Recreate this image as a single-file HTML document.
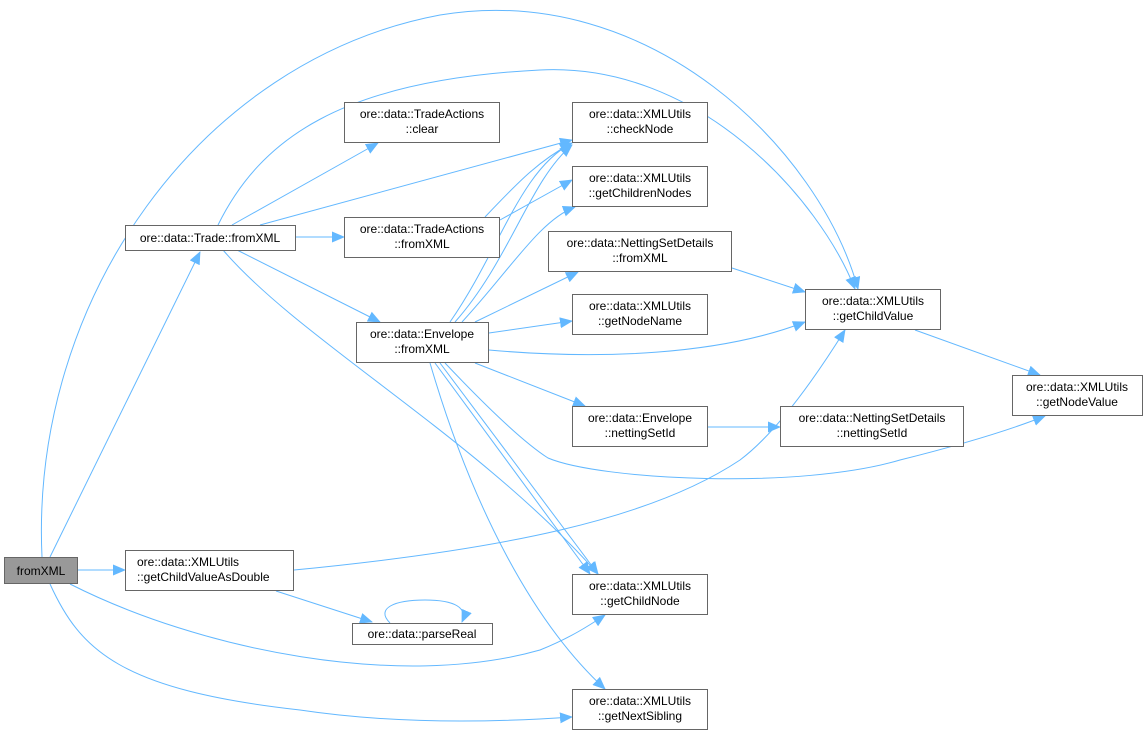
<!DOCTYPE html>
<html><head><meta charset="utf-8"><style>
html,body{margin:0;padding:0;background:#fff;}
svg{display:block;}
text{font-family:"Liberation Sans",sans-serif;font-size:12px;fill:#000;}
.n{fill:#fff;stroke:#666;stroke-width:1;}
.e{fill:none;stroke:#63b8ff;stroke-width:1;}
</style></head><body>
<svg width="1148" height="736" viewBox="0 0 1148 736" xmlns="http://www.w3.org/2000/svg">
<defs>
<marker id="a" markerWidth="13" markerHeight="11" refX="12" refY="5.5" orient="auto" markerUnits="userSpaceOnUse">
<path d="M0,0 L13,5.5 L0,11 Z" fill="#63b8ff"/>
</marker>
</defs>
<g class="e" marker-end="url(#a)">
<path d="M50,557 L200,252"/>
<path d="M77,570 L125,570"/>
<path d="M42,557 C30,300 200,60 440,15 C650,-20 820,150 858,289"/>
<path d="M70,584 C200,650 400,690 540,650 C570,638 590,625 605,615"/>
<path d="M50,584 C80,650 120,690 300,710 C400,725 500,722 572,717"/>
<path d="M232,225 L378,143"/>
<path d="M260,225 L572,140"/>
<path d="M296,237 L344,237"/>
<path d="M237,250 L380,322"/>
<path d="M223,250 C300,340 480,440 598,574"/>
<path d="M218,225 C260,140 340,80 540,70 C700,62 820,200 855,289"/>
<path d="M485,217 C520,180 540,160 572,143"/>
<path d="M500,220 L572,180"/>
<path d="M450,322 C500,250 520,170 572,143"/>
<path d="M455,322 C510,260 530,180 572,145"/>
<path d="M462,322 C510,270 540,220 575,207"/>
<path d="M475,322 L578,272"/>
<path d="M489,333 L572,321"/>
<path d="M489,350 C600,360 720,355 805,322"/>
<path d="M475,363 L585,406"/>
<path d="M445,363 C480,400 520,440 548,458 C600,480 800,490 900,460 C960,445 1010,430 1045,416"/>
<path d="M440,363 L598,574"/>
<path d="M435,363 L590,574"/>
<path d="M430,363 C470,500 530,620 605,689"/>
<path d="M732,268 L805,292"/>
<path d="M915,330 L1040,375"/>
<path d="M708,427 L780,427"/>
<path d="M294,570 C500,550 650,520 740,460 C780,430 820,370 845,330"/>
<path d="M276,591 L372,622"/>
<path d="M390,623 C375,608 395,600 425,600 C455,600 468,608 462,622"/>
</g>
<rect x="4.5" y="557.5" width="73" height="26" fill="#999" stroke="#666"/>
<text x="41" y="575" text-anchor="middle">fromXML</text>
<rect class="n" x="125.5" y="225.5" width="170" height="25"/>
<text x="210" y="242" text-anchor="middle">ore::data::Trade::fromXML</text>
<rect class="n" x="344.5" y="102.5" width="155" height="40"/>
<text x="422" y="118" text-anchor="middle">ore::data::TradeActions</text><text x="422" y="133" text-anchor="middle">::clear</text>
<rect class="n" x="344.5" y="217.5" width="155" height="40"/>
<text x="422" y="233" text-anchor="middle">ore::data::TradeActions</text><text x="422" y="248" text-anchor="middle">::fromXML</text>
<rect class="n" x="356.5" y="322.5" width="132" height="40"/>
<text x="422" y="338" text-anchor="middle">ore::data::Envelope</text><text x="422" y="353" text-anchor="middle">::fromXML</text>
<rect class="n" x="572.5" y="102.5" width="135" height="40"/>
<text x="640" y="118" text-anchor="middle">ore::data::XMLUtils</text><text x="640" y="133" text-anchor="middle">::checkNode</text>
<rect class="n" x="572.5" y="166.5" width="135" height="40"/>
<text x="640" y="182" text-anchor="middle">ore::data::XMLUtils</text><text x="640" y="197" text-anchor="middle">::getChildrenNodes</text>
<rect class="n" x="548.5" y="231.5" width="183" height="40"/>
<text x="640" y="247" text-anchor="middle">ore::data::NettingSetDetails</text><text x="640" y="262" text-anchor="middle">::fromXML</text>
<rect class="n" x="572.5" y="294.5" width="135" height="40"/>
<text x="640" y="310" text-anchor="middle">ore::data::XMLUtils</text><text x="640" y="325" text-anchor="middle">::getNodeName</text>
<rect class="n" x="805.5" y="289.5" width="135" height="40"/>
<text x="873" y="305" text-anchor="middle">ore::data::XMLUtils</text><text x="873" y="320" text-anchor="middle">::getChildValue</text>
<rect class="n" x="1012.5" y="375.5" width="130" height="40"/>
<text x="1077" y="391" text-anchor="middle">ore::data::XMLUtils</text><text x="1077" y="406" text-anchor="middle">::getNodeValue</text>
<rect class="n" x="572.5" y="406.5" width="135" height="40"/>
<text x="640" y="422" text-anchor="middle">ore::data::Envelope</text><text x="640" y="437" text-anchor="middle">::nettingSetId</text>
<rect class="n" x="780.5" y="406.5" width="183" height="40"/>
<text x="872" y="422" text-anchor="middle">ore::data::NettingSetDetails</text><text x="872" y="437" text-anchor="middle">::nettingSetId</text>
<rect class="n" x="125.5" y="550.5" width="168" height="40"/>
<text x="137" y="566">ore::data::XMLUtils</text><text x="137" y="581">::getChildValueAsDouble</text>
<rect class="n" x="352.5" y="623.5" width="140" height="21"/>
<text x="422" y="638" text-anchor="middle">ore::data::parseReal</text>
<rect class="n" x="572.5" y="574.5" width="135" height="40"/>
<text x="640" y="590" text-anchor="middle">ore::data::XMLUtils</text><text x="640" y="605" text-anchor="middle">::getChildNode</text>
<rect class="n" x="572.5" y="689.5" width="135" height="40"/>
<text x="640" y="705" text-anchor="middle">ore::data::XMLUtils</text><text x="640" y="720" text-anchor="middle">::getNextSibling</text>
</svg>
</body></html>
